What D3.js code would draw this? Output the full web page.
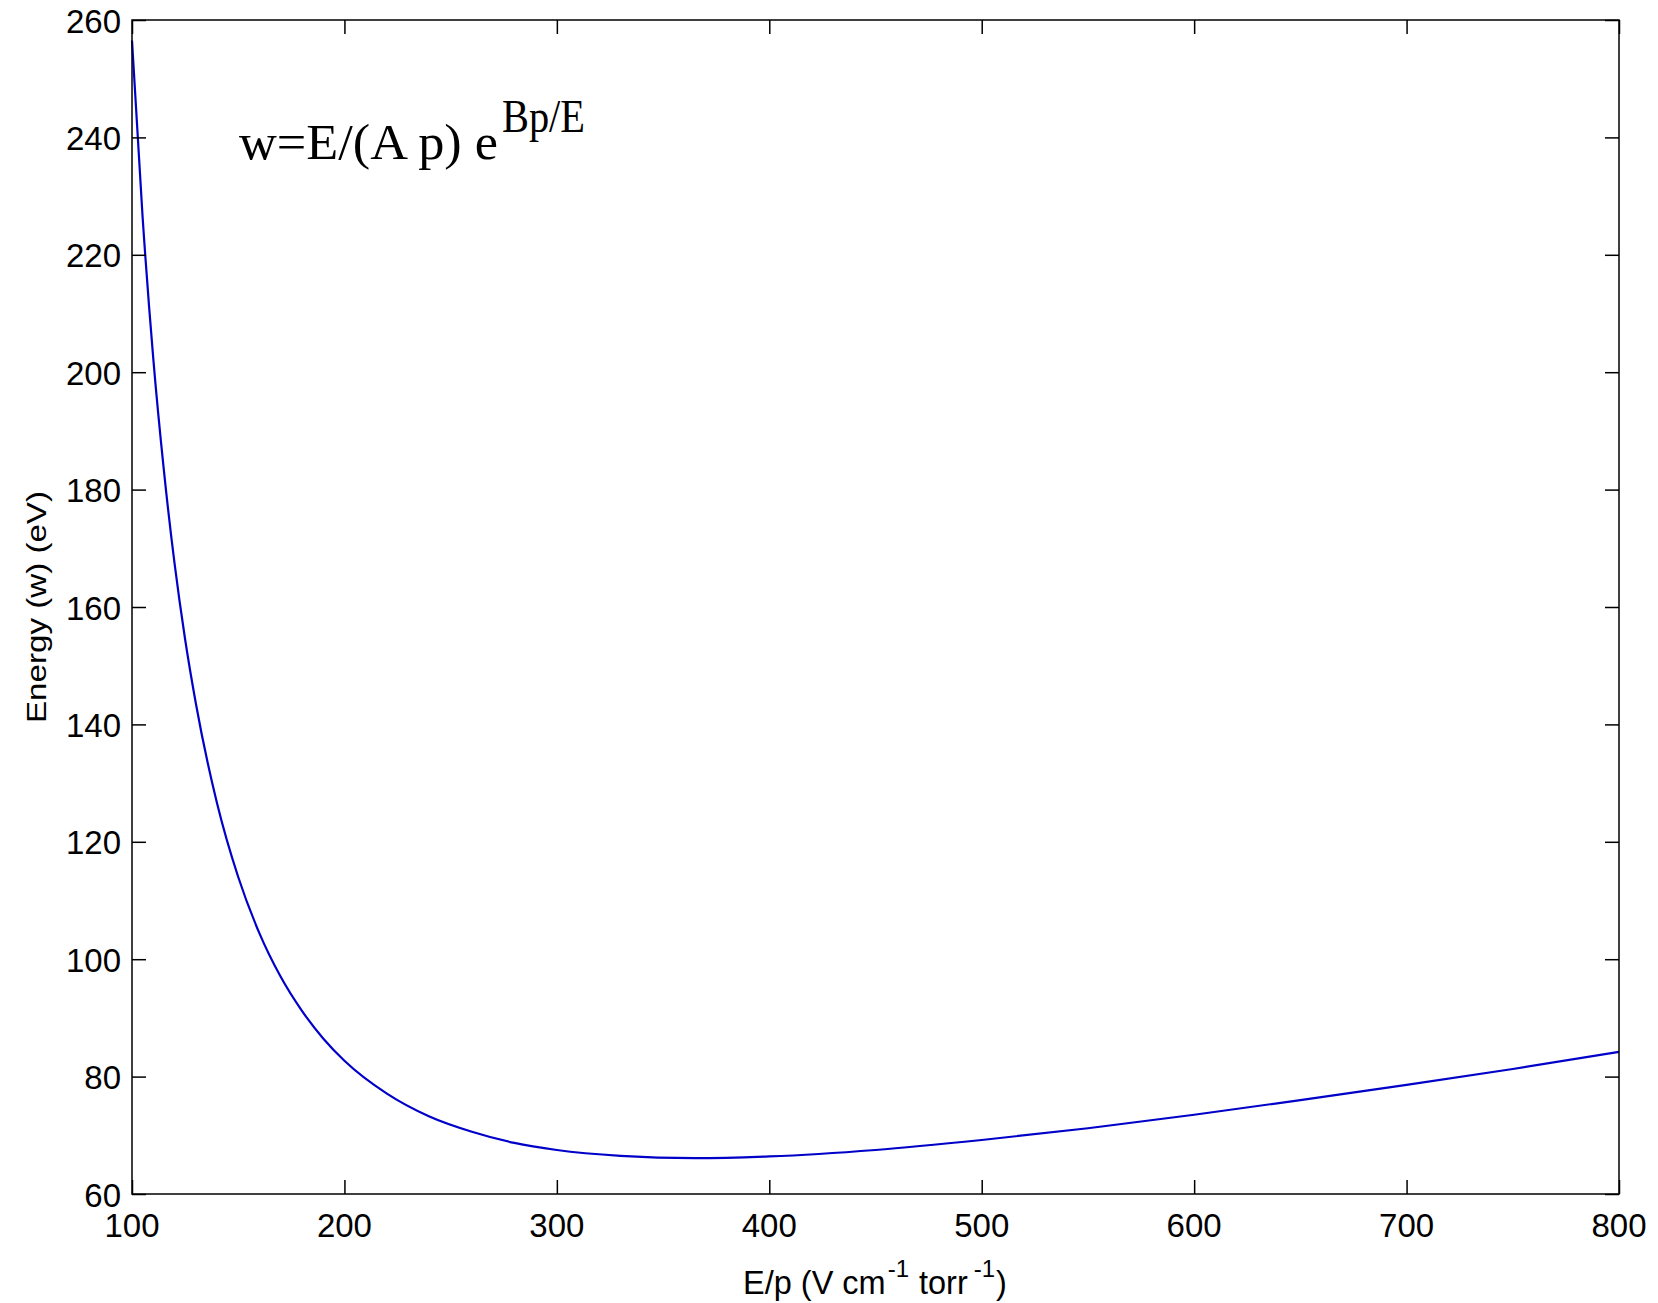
<!DOCTYPE html>
<html>
<head>
<meta charset="utf-8">
<script src="https://cdn.jsdelivr.net/npm/d3@7"></script>
<style>
  body { margin: 0; background: #fff; }
  svg { display: block; }
</style>
</head>
<body>
<svg width="1658" height="1303"></svg>
<script>
const svg = d3.select("svg");

// DATA
const epValues = [100, 105, 110, 115, 120, 125, 130, 140, 150, 160, 170, 180, 190, 200,
  220, 240, 260, 280, 300, 330, 365, 400, 450, 500, 550, 600, 650, 700, 750, 800];
const wValues = [256.5, 226.4, 202.4, 183.3, 167.5, 154.5, 143.7, 126.6, 114.0, 104.4, 97.0, 91.2, 86.5, 82.7,
  77.1, 73.2, 70.6, 68.7, 67.5, 66.5, 66.1, 66.4, 67.5, 69.2, 71.2, 73.5, 76.0, 78.6, 81.3, 84.2];
const xTicks = [100, 200, 300, 400, 500, 600, 700, 800];
const yTicks = [60, 80, 100, 120, 140, 160, 180, 200, 220, 240, 260];

const plotLeft = 132, plotRight = 1619, plotTop = 20, plotBottom = 1194;
const tickLen = 14;

const x = d3.scaleLinear().domain([100, 800]).range([plotLeft, plotRight]);
const y = d3.scaleLinear().domain([60, 260]).range([plotBottom, plotTop]);

// CURVE
const points = epValues.map((e, i) => [e, wValues[i]]);
const line = d3.line()
  .x(d => x(d[0]))
  .y(d => y(d[1]))
  .curve(d3.curveMonotoneX);

svg.append("path")
  .datum(points)
  .attr("d", line)
  .attr("fill", "none")
  .attr("stroke", "#0000c8")
  .attr("stroke-width", 2.2);

// AXES (box with inward ticks on all sides)
const axisStyle = g => {
  g.select(".domain").remove();
  g.selectAll(".tick line").attr("stroke", "#000").attr("stroke-width", 1.5);
};

svg.append("g")
  .attr("transform", `translate(0,${plotBottom})`)
  .call(d3.axisBottom(x).tickValues(xTicks).tickSize(-tickLen).tickFormat(""))
  .call(axisStyle);
svg.append("g")
  .attr("transform", `translate(0,${plotTop})`)
  .call(d3.axisTop(x).tickValues(xTicks).tickSize(-tickLen).tickFormat(""))
  .call(axisStyle);
svg.append("g")
  .attr("transform", `translate(${plotLeft},0)`)
  .call(d3.axisLeft(y).tickValues(yTicks).tickSize(-tickLen).tickFormat(""))
  .call(axisStyle);
svg.append("g")
  .attr("transform", `translate(${plotRight},0)`)
  .call(d3.axisRight(y).tickValues(yTicks).tickSize(-tickLen).tickFormat(""))
  .call(axisStyle);

svg.append("rect")
  .attr("x", plotLeft).attr("y", plotTop)
  .attr("width", plotRight - plotLeft).attr("height", plotBottom - plotTop)
  .attr("fill", "none")
  .attr("stroke", "#000")
  .attr("stroke-width", 1.5);

// TICK LABELS
const labelFont = "'Liberation Sans', Arial, Helvetica, sans-serif";

svg.append("g").selectAll("text")
  .data(xTicks)
  .enter().append("text")
  .attr("x", d => x(d))
  .attr("y", plotBottom + 43)
  .attr("text-anchor", "middle")
  .attr("font-family", labelFont)
  .attr("font-size", 33)
  .text(d => d);

svg.append("g").selectAll("text")
  .data(yTicks)
  .enter().append("text")
  .attr("x", plotLeft - 11)
  .attr("y", d => y(d) + 12.5)
  .attr("text-anchor", "end")
  .attr("font-family", labelFont)
  .attr("font-size", 33)
  .text(d => d);

// AXIS TITLES (x label laid out piece by piece, superscripts raised)
const xlY = 1294;
const xlPieces = [
  { t: "E/p (V cm", size: 32.5, rise: 0, gap: 2 },
  { t: "-1", size: 24, rise: 17, gap: 10 },
  { t: "torr", size: 32.5, rise: 0, gap: 6 },
  { t: "-1", size: 24, rise: 17, gap: 1 },
  { t: ")", size: 32.5, rise: 0, gap: 0 }
];
const xl = svg.append("g").attr("font-family", labelFont);
let cursor = 743;
xlPieces.forEach(p => {
  const t = xl.append("text")
    .attr("x", cursor)
    .attr("y", xlY - p.rise)
    .attr("font-size", p.size)
    .text(p.t);
  cursor += t.node().getComputedTextLength() + p.gap;
});

svg.append("text")
  .attr("transform", `translate(46,${(plotTop + plotBottom) / 2}) rotate(-90)`)
  .attr("text-anchor", "middle")
  .attr("font-family", labelFont)
  .attr("font-size", 28)
  .attr("textLength", 232)
  .attr("lengthAdjust", "spacingAndGlyphs")
  .text("Energy (w) (eV)");

// FORMULA ANNOTATION
const serif = "'Liberation Serif', 'Times New Roman', Times, serif";
svg.append("text")
  .attr("x", 239)
  .attr("y", 159)
  .attr("font-family", serif)
  .attr("font-size", 50)
  .attr("textLength", 259)
  .attr("lengthAdjust", "spacingAndGlyphs")
  .text("w=E/(A p) e");
svg.append("text")
  .attr("x", 502)
  .attr("y", 132)
  .attr("font-family", serif)
  .attr("font-size", 46)
  .attr("textLength", 83)
  .attr("lengthAdjust", "spacingAndGlyphs")
  .text("Bp/E");
</script>
</body>
</html>
